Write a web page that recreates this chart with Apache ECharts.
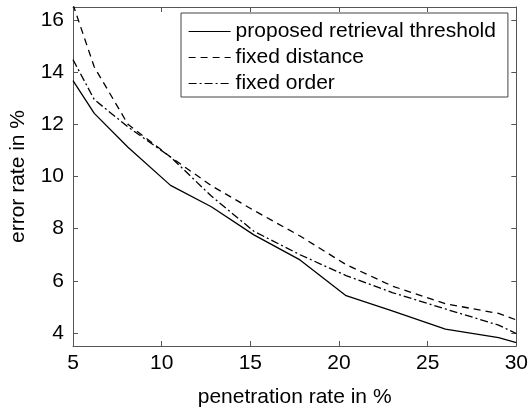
<!DOCTYPE html>
<html>
<head>
<meta charset="utf-8">
<script src="https://cdn.jsdelivr.net/npm/echarts@6/dist/echarts.min.js"></script>
<style>
html,body{margin:0;padding:0;background:#fff;}
#c{width:531px;height:413px;}
</style>
</head>
<body>
<div id="c"></div>
<script>
// Data
const xValues = [5, 6.2, 8.1, 10.5, 12.8, 15.2, 17.8, 20.4, 23, 26, 29, 30];
const proposed = [13.68, 12.42, 11.12, 9.66, 8.84, 7.76, 6.8, 5.43, 4.85, 4.15, 3.82, 3.63];
const fixedDistance = [16.6, 14.2, 12.0, 10.75, 9.65, 8.7, 7.72, 6.62, 5.8, 5.12, 4.75, 4.5];
const fixedOrder = [14.48, 12.95, 11.9, 10.75, 9.25, 7.9, 7.0, 6.2, 5.55, 4.92, 4.3, 3.98];
const seriesNames = ['proposed retrieval threshold', 'fixed distance', 'fixed order'];
const yTicks = [4, 6, 8, 10, 12, 14, 16];
const xTitle = 'penetration rate in %';
const yTitle = 'error rate in %';

const FONT = 'Liberation Sans, Arial, sans-serif';
const FS = 21;
const axisCol = '#555';

function pairs(ys) { return xValues.map((x, i) => [x, ys[i]]); }

const chart = echarts.init(document.getElementById('c'), null, {renderer: 'canvas'});
chart.setOption({
  animation: false,
  backgroundColor: '#fff',
  grid: {left: 72, right: 12, top: 7, bottom: 65, containLabel: false},
  legend: {
    orient: 'vertical',
    left: 181, top: 13,
    data: seriesNames,
    itemWidth: 42, itemHeight: 14, itemGap: 5,
    padding: [8, 12, 3, 7],
    borderColor: '#444', borderWidth: 1,
    backgroundColor: '#fff',
    itemStyle: {opacity: 0, color: 'transparent', borderWidth: 0},
    lineStyle: {width: 1.2},
    textStyle: {fontFamily: FONT, fontSize: FS, color: '#000'}
  },
  xAxis: [{
    type: 'value', min: 5, max: 30, interval: 5, position: 'bottom',
    name: xTitle, nameLocation: 'middle', nameGap: 41,
    nameTextStyle: {fontFamily: FONT, fontSize: FS, color: '#000'},
    axisLine: {onZero: false, lineStyle: {color: axisCol, width: 1}},
    axisTick: {inside: true, length: 5, lineStyle: {color: axisCol}},
    axisLabel: {margin: 7, fontFamily: FONT, fontSize: FS, color: '#000'},
    splitLine: {show: false}
  }, {
    type: 'value', min: 5, max: 30, interval: 5, position: 'top',
    axisLine: {onZero: false, lineStyle: {color: axisCol, width: 1}},
    axisTick: {inside: true, length: 5, lineStyle: {color: axisCol}},
    axisLabel: {show: false},
    splitLine: {show: false}
  }],
  yAxis: [{
    type: 'value', min: 3.5, max: 16.5, position: 'left',
    name: yTitle, nameLocation: 'middle', nameGap: 44,
    nameTextStyle: {fontFamily: FONT, fontSize: FS, color: '#000'},
    axisLine: {show: true, onZero: false, lineStyle: {color: axisCol, width: 1}},
    axisTick: {show: true, inside: true, length: 5, lineStyle: {color: axisCol}, customValues: yTicks},
    axisLabel: {margin: 9, fontFamily: FONT, fontSize: FS, color: '#000', customValues: yTicks},
    splitLine: {show: false}
  }, {
    type: 'value', min: 3.5, max: 16.5, position: 'right',
    axisLine: {show: true, onZero: false, lineStyle: {color: axisCol, width: 1}},
    axisTick: {show: true, inside: true, length: 5, lineStyle: {color: axisCol}, customValues: yTicks},
    axisLabel: {show: false, customValues: yTicks},
    splitLine: {show: false}
  }],
  series: [{
    name: seriesNames[0], type: 'line', data: pairs(proposed), symbol: 'none',
    lineStyle: {color: '#000', width: 1.3, type: 'solid'}, itemStyle: {color: '#000'}
  }, {
    name: seriesNames[1], type: 'line', data: pairs(fixedDistance), symbol: 'none',
    lineStyle: {color: '#000', width: 1.3, type: [7, 5]}, itemStyle: {color: '#000'}
  }, {
    name: seriesNames[2], type: 'line', data: pairs(fixedOrder), symbol: 'none',
    lineStyle: {color: '#000', width: 1.3, type: [8, 3, 2, 3]}, itemStyle: {color: '#000'}
  }]
});
</script>
</body>
</html>
